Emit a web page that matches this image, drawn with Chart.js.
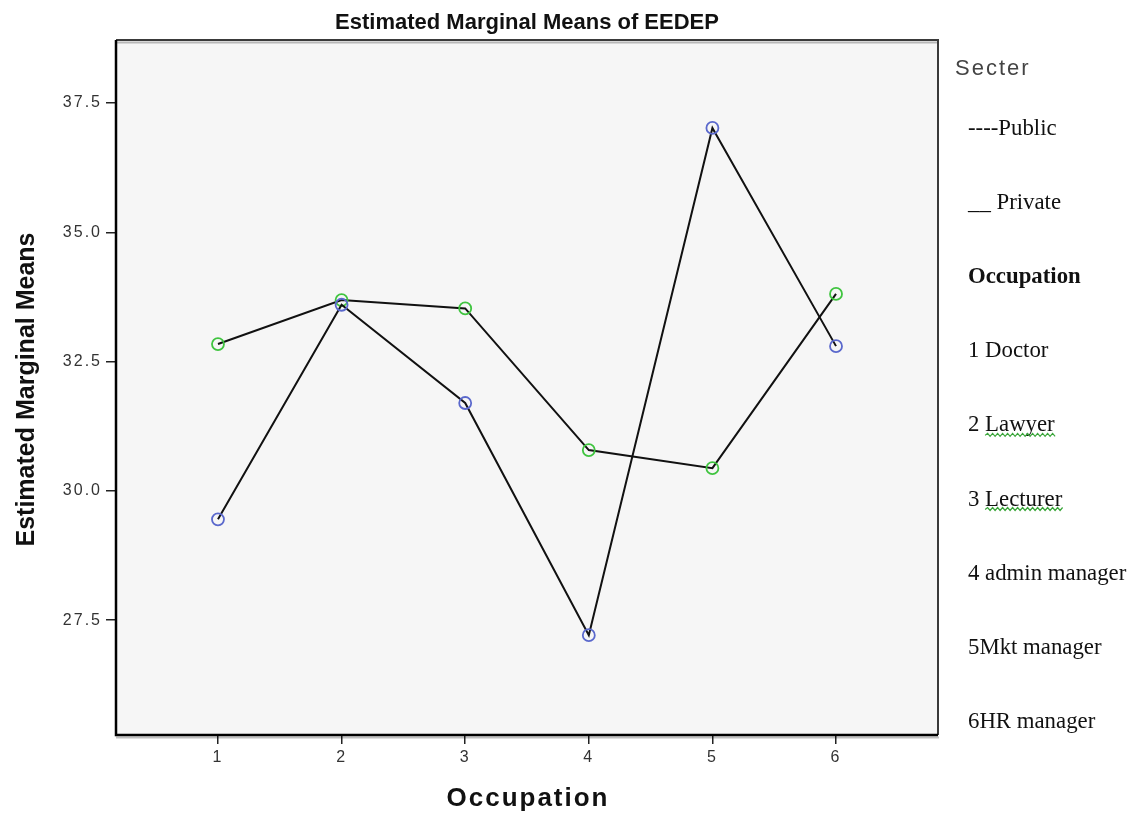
<!DOCTYPE html>
<html>
<head>
<meta charset="utf-8">
<script src="https://cdn.jsdelivr.net/npm/chart.js@4.4.1/dist/chart.umd.min.js"></script>
<style>
  html, body { margin: 0; padding: 0; background: #fff; }
  canvas { display: block; }
</style>
</head>
<body>
<canvas id="emm" width="1138" height="813"></canvas>
<script>
// Occupation codes on the x axis
const occupationCodes = [1, 2, 3, 4, 5, 6];
// Estimated marginal means of EEDEP by sector
const publicMeans  = [29.45, 33.60, 31.70, 27.21, 37.02, 32.80];
const privateMeans = [32.84, 33.69, 33.53, 30.79, 30.44, 33.81];
// Value-axis ticks
const yTickValues = [27.5, 30.0, 32.5, 35.0, 37.5];
// Side notes
const legendLines = ['----Public', '__ Private', 'Occupation', '1 Doctor', '2 Lawyer',
                     '3 Lecturer', '4 admin manager', '5Mkt manager', '6HR manager'];
const spellFlagged = ['Lawyer', 'Lecturer'];

const toPoints = vals => occupationCodes.map((x, i) => ({ x: x, y: vals[i] }));

const SANS = '"Liberation Sans", Arial, sans-serif';
const SERIF = '"Liberation Serif", "Times New Roman", serif';

function wavy(ctx, x0, x1, y) {
  ctx.beginPath();
  let up = true;
  ctx.moveTo(x0, y);
  for (let x = x0; x < x1; x += 2.5) {
    ctx.lineTo(x + 2.5, up ? y - 2 : y + 1);
    up = !up;
  }
  ctx.stroke();
}

const framePlugin = {
  id: 'frame',
  beforeDraw(chart) {
    const { ctx, chartArea: a } = chart;
    ctx.save();
    ctx.fillStyle = '#ffffff';
    ctx.fillRect(0, 0, chart.width, chart.height);
    ctx.fillStyle = '#f6f6f6';
    ctx.fillRect(a.left, a.top, a.right - a.left, a.bottom - a.top);
    ctx.restore();
    ctx.letterSpacing = '2px';
  },
  beforeDatasetsDraw(chart) {
    const { ctx, chartArea: a } = chart;
    ctx.save();
    // soft shadow inside the top edge and below the bottom edge
    ctx.strokeStyle = 'rgba(0,0,0,0.25)';
    ctx.lineWidth = 2;
    ctx.beginPath();
    ctx.moveTo(a.left, a.bottom + 2.5);
    ctx.lineTo(a.right + 1, a.bottom + 2.5);
    ctx.moveTo(a.left, a.top + 2.5);
    ctx.lineTo(a.right, a.top + 2.5);
    ctx.stroke();
    // frame
    ctx.strokeStyle = '#3a3a3a';
    ctx.lineWidth = 2;
    ctx.beginPath();
    ctx.moveTo(a.left, a.top);
    ctx.lineTo(a.right, a.top);
    ctx.lineTo(a.right, a.bottom);
    ctx.stroke();
    ctx.strokeStyle = '#000';
    ctx.lineWidth = 2.5;
    ctx.beginPath();
    ctx.moveTo(a.left, a.top);
    ctx.lineTo(a.left, a.bottom);
    ctx.lineTo(a.right, a.bottom);
    ctx.stroke();
    ctx.restore();
  },
  afterDraw(chart) {
    const { ctx, chartArea: a } = chart;
    const cx = (a.left + a.right) / 2;
    ctx.save();
    ctx.fillStyle = '#111';
    ctx.textBaseline = 'alphabetic';

    // chart title
    ctx.letterSpacing = '0px';
    ctx.font = 'bold 22px ' + SANS;
    ctx.textAlign = 'center';
    ctx.fillText('Estimated Marginal Means of EEDEP', cx, 29);

    // x-axis title
    ctx.letterSpacing = '2px';
    ctx.font = 'bold 26px ' + SANS;
    ctx.fillText('Occupation', cx + 1, 806);

    // y-axis title
    ctx.save();
    ctx.letterSpacing = '0px';
    ctx.font = 'bold 25px ' + SANS;
    ctx.translate(34, (a.top + a.bottom) / 2 + 2);
    ctx.rotate(-Math.PI / 2);
    ctx.fillText('Estimated Marginal Means', 0, 0);
    ctx.restore();

    // legend heading
    ctx.textAlign = 'left';
    ctx.letterSpacing = '2px';
    ctx.font = '22px ' + SANS;
    ctx.fillStyle = '#444';
    ctx.fillText('Secter', 955, 75);

    // side notes
    ctx.letterSpacing = '0px';
    const x0 = 968, y0 = 135, step = 74.1;
    legendLines.forEach((line, i) => {
      const y = y0 + i * step;
      ctx.font = (line === 'Occupation' ? 'bold ' : '') + '22.8px ' + SERIF;
      ctx.fillStyle = '#111';
      ctx.fillText(line, x0, y);
      spellFlagged.forEach(word => {
        const k = line.indexOf(word);
        if (k >= 0) {
          const start = x0 + ctx.measureText(line.slice(0, k)).width;
          const end = start + ctx.measureText(word).width;
          ctx.strokeStyle = '#3aa63a';
          ctx.lineWidth = 1.2;
          wavy(ctx, start, end, y + 4);
        }
      });
    });
    ctx.restore();
  }
};

const pointStyleFor = color => ({
  borderColor: '#111',
  borderWidth: 2,
  pointStyle: 'circle',
  pointRadius: 6,
  pointHoverRadius: 6,
  pointBorderColor: color,
  pointBackgroundColor: 'rgba(0,0,0,0)',
  pointBorderWidth: 1.8,
  fill: false,
  tension: 0
});

new Chart(document.getElementById('emm'), {
  type: 'line',
  data: {
    datasets: [
      Object.assign({ label: 'Public', data: toPoints(publicMeans) }, pointStyleFor('#5a68cc')),
      Object.assign({ label: 'Private', data: toPoints(privateMeans) }, pointStyleFor('#3fc43f'))
    ]
  },
  options: {
    responsive: false,
    animation: false,
    devicePixelRatio: 1,
    layout: { padding: { top: 40, right: 200, left: 0, bottom: 0 } },
    plugins: {
      legend: { display: false },
      title: { display: false },
      tooltip: { enabled: false }
    },
    scales: {
      x: {
        type: 'linear',
        min: 0.175,
        max: 6.825,
        afterFit(scale) { scale.height = 78; },
        afterBuildTicks(scale) { scale.ticks = occupationCodes.map(v => ({ value: v })); },
        grid: { drawOnChartArea: false, drawTicks: true, tickLength: 9, color: '#222', lineWidth: 1.5 },
        border: { display: false },
        ticks: {
          color: '#333',
          padding: 4,
          font: { family: SANS, size: 16 },
          callback: v => String(v)
        }
      },
      y: {
        type: 'linear',
        min: 25.28,
        max: 38.72,
        afterFit(scale) { scale.width = 116; },
        afterBuildTicks(scale) { scale.ticks = yTickValues.map(v => ({ value: v })); },
        grid: { drawOnChartArea: false, drawTicks: true, tickLength: 10, color: '#222', lineWidth: 1.5 },
        border: { display: false },
        ticks: {
          color: '#333',
          padding: 4,
          font: { family: SANS, size: 16 },
          callback: v => Number(v).toFixed(1)
        }
      }
    }
  },
  plugins: [framePlugin]
});
</script>
</body>
</html>
